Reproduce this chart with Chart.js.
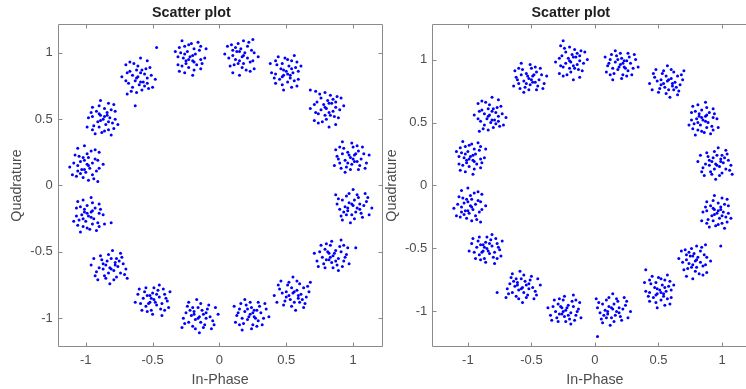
<!DOCTYPE html>
<html>
<head>
<meta charset="utf-8">
<script src="https://cdn.jsdelivr.net/npm/chart.js@4.4.1/dist/chart.umd.min.js"></script>
<style>
  html, body { margin: 0; padding: 0; background: #fff; overflow: hidden; }
  #wrap { position: relative; width: 746px; height: 389px; overflow: hidden; }
  canvas { position: absolute; top: 0; }
  #graficoEsq { left: 0; }
  #graficoDir { left: 384px; }
</style>
</head>
<body>
<div id="wrap">
  <canvas id="graficoEsq" width="384" height="389"></canvas>
  <canvas id="graficoDir" width="380" height="389"></canvas>
</div>
<script>
// Received symbols, left plot: flat list of In-Phase, Quadrature pairs, one line per cluster
const pontosEsq = [
  0.98,0.21, 1.01,0.23, 0.96,0.25, 1.03,0.18, 0.94,0.19, 0.99,0.16, 1.04,0.26, 0.92,0.24, 1.00,0.29, 0.95,0.14, 1.06,0.20, 0.90,0.17, 1.02,0.24, 0.97,0.23, 1.05,0.15, 0.93,0.28, 0.98,0.12, 1.08,0.24, 0.88,0.22, 1.01,0.18, 1.03,0.30, 0.91,0.13, 1.10,0.17, 0.87,0.27, 0.99,0.32, 0.94,0.10, 1.07,0.29, 0.89,0.20, 1.12,0.23, 0.92,0.33, 1.00,0.20, 0.96,0.17, 1.04,0.12, 0.90,0.29, 1.09,0.13, 0.86,0.15,
  1.00,-0.15, 0.97,-0.13, 1.03,-0.17, 0.96,-0.19, 1.01,-0.11, 1.05,-0.14, 0.94,-0.16, 0.99,-0.22, 1.02,-0.20, 1.06,-0.21, 0.92,-0.11, 1.04,-0.09, 0.95,-0.08, 1.08,-0.15, 0.90,-0.18, 1.01,-0.25, 0.97,-0.06, 1.07,-0.24, 0.91,-0.23, 1.10,-0.12, 0.88,-0.14, 1.05,-0.18, 0.93,-0.20, 1.00,-0.03, 0.98,-0.28, 1.12,-0.22, 0.87,-0.07, 1.09,-0.06, 0.95,-0.22, 1.14,-0.17, 0.99,-0.14, 0.96,-0.17, 1.03,-0.07, 0.92,-0.26, 1.11,-0.09, 0.89,-0.10,
  0.85,-0.53, 0.82,-0.51, 0.87,-0.49, 0.80,-0.56, 0.89,-0.55, 0.84,-0.58, 0.79,-0.48, 0.91,-0.50, 0.83,-0.45, 0.88,-0.60, 0.77,-0.54, 0.93,-0.57, 0.81,-0.50, 0.86,-0.51, 0.78,-0.59, 0.90,-0.46, 0.85,-0.62, 0.75,-0.50, 0.95,-0.52, 0.82,-0.56, 0.80,-0.44, 0.92,-0.61, 0.73,-0.57, 0.96,-0.47, 0.84,-0.42, 0.89,-0.64, 0.76,-0.45, 0.94,-0.54, 0.71,-0.51, 0.91,-0.41, 0.83,-0.54, 0.87,-0.57, 0.79,-0.62, 0.93,-0.45, 0.74,-0.61, 0.97,-0.59,
  0.55,-0.81, 0.58,-0.79, 0.52,-0.83, 0.59,-0.85, 0.54,-0.77, 0.50,-0.80, 0.61,-0.82, 0.56,-0.88, 0.53,-0.86, 0.49,-0.87, 0.63,-0.77, 0.51,-0.75, 0.60,-0.74, 0.47,-0.81, 0.65,-0.84, 0.54,-0.91, 0.58,-0.72, 0.48,-0.90, 0.64,-0.89, 0.45,-0.78, 0.67,-0.80, 0.50,-0.84, 0.62,-0.86, 0.55,-0.69, 0.57,-0.94, 0.43,-0.88, 0.68,-0.73, 0.46,-0.72, 0.60,-0.88, 0.41,-0.83, 0.56,-0.80, 0.59,-0.83, 0.52,-0.73, 0.63,-0.92, 0.44,-0.75, 0.66,-0.76,
  0.23,-0.97, 0.26,-0.99, 0.21,-1.01, 0.28,-0.94, 0.19,-0.95, 0.24,-0.92, 0.29,-1.02, 0.17,-1.00, 0.25,-1.05, 0.20,-0.90, 0.31,-0.96, 0.15,-0.93, 0.27,-1.00, 0.22,-0.99, 0.30,-0.91, 0.18,-1.04, 0.23,-0.88, 0.33,-1.00, 0.13,-0.98, 0.26,-0.94, 0.28,-1.06, 0.16,-0.89, 0.35,-0.93, 0.12,-1.03, 0.24,-1.08, 0.19,-0.86, 0.32,-1.05, 0.14,-0.96, 0.37,-0.99, 0.17,-1.09, 0.25,-0.96, 0.21,-0.93, 0.29,-0.88, 0.15,-1.05, 0.34,-0.89, 0.11,-0.91,
  -0.15,-0.99, -0.18,-1.01, -0.12,-0.97, -0.19,-0.95, -0.14,-1.03, -0.10,-1.00, -0.21,-0.98, -0.16,-0.92, -0.13,-0.94, -0.09,-0.93, -0.23,-1.03, -0.11,-1.05, -0.20,-1.06, -0.07,-0.99, -0.25,-0.96, -0.14,-0.89, -0.18,-1.08, -0.08,-0.90, -0.24,-0.91, -0.05,-1.02, -0.27,-1.00, -0.10,-0.96, -0.22,-0.94, -0.15,-1.11, -0.17,-0.86, -0.03,-0.92, -0.28,-1.07, -0.06,-1.08, -0.20,-0.92, -0.01,-0.97, -0.16,-1.00, -0.19,-0.97, -0.12,-1.07, -0.23,-0.88, -0.04,-1.05, -0.26,-1.04,
  -0.49,-0.86, -0.52,-0.88, -0.47,-0.90, -0.54,-0.83, -0.45,-0.84, -0.50,-0.81, -0.55,-0.91, -0.43,-0.89, -0.51,-0.94, -0.46,-0.79, -0.57,-0.85, -0.41,-0.82, -0.53,-0.89, -0.48,-0.88, -0.56,-0.80, -0.44,-0.93, -0.49,-0.77, -0.59,-0.89, -0.39,-0.87, -0.52,-0.83, -0.54,-0.95, -0.42,-0.78, -0.61,-0.82, -0.38,-0.92, -0.50,-0.97, -0.45,-0.75, -0.58,-0.94, -0.40,-0.85, -0.63,-0.88, -0.43,-0.98, -0.51,-0.85, -0.47,-0.82, -0.55,-0.77, -0.41,-0.94, -0.60,-0.78, -0.37,-0.80,
  -0.82,-0.62, -0.79,-0.64, -0.85,-0.60, -0.78,-0.58, -0.83,-0.66, -0.87,-0.63, -0.76,-0.61, -0.81,-0.55, -0.84,-0.57, -0.88,-0.56, -0.74,-0.66, -0.86,-0.68, -0.77,-0.69, -0.90,-0.62, -0.72,-0.59, -0.83,-0.52, -0.79,-0.71, -0.89,-0.53, -0.73,-0.54, -0.92,-0.65, -0.70,-0.63, -0.87,-0.59, -0.75,-0.57, -0.82,-0.74, -0.80,-0.49, -0.94,-0.55, -0.69,-0.70, -0.91,-0.71, -0.77,-0.55, -0.96,-0.60, -0.81,-0.63, -0.78,-0.60, -0.85,-0.70, -0.74,-0.51, -0.93,-0.68, -0.71,-0.67,
  -0.98,-0.23, -0.96,-0.20, -0.94,-0.25, -1.01,-0.18, -1.00,-0.27, -1.03,-0.22, -0.93,-0.17, -0.95,-0.29, -0.90,-0.21, -1.05,-0.26, -0.99,-0.15, -1.02,-0.31, -0.95,-0.19, -0.96,-0.24, -1.04,-0.16, -0.91,-0.28, -1.07,-0.23, -0.95,-0.13, -0.97,-0.33, -1.01,-0.20, -0.89,-0.18, -1.06,-0.30, -1.02,-0.11, -0.92,-0.34, -0.87,-0.22, -1.09,-0.27, -0.90,-0.14, -0.99,-0.32, -0.96,-0.09, -0.86,-0.29, -0.99,-0.21, -1.02,-0.25, -1.07,-0.17, -0.90,-0.31, -1.06,-0.12, -1.04,-0.35,
  -0.99,0.16, -0.97,0.13, -1.01,0.19, -1.03,0.12, -0.95,0.17, -0.98,0.21, -1.00,0.10, -1.06,0.15, -1.04,0.18, -1.05,0.22, -0.95,0.08, -0.93,0.20, -0.92,0.11, -0.99,0.24, -1.02,0.06, -1.09,0.17, -0.90,0.13, -1.08,0.23, -1.07,0.07, -0.96,0.26, -0.98,0.04, -1.02,0.21, -1.04,0.09, -0.87,0.16, -1.12,0.14, -1.06,0.28, -0.91,0.03, -0.90,0.25, -1.06,0.11, -1.01,0.30, -0.98,0.15, -1.01,0.12, -0.91,0.19, -1.10,0.08, -0.93,0.27, -0.94,0.05,
  -0.87,0.50, -0.89,0.53, -0.91,0.48, -0.84,0.55, -0.85,0.46, -0.82,0.51, -0.92,0.56, -0.90,0.44, -0.95,0.52, -0.80,0.47, -0.86,0.58, -0.83,0.42, -0.90,0.54, -0.89,0.49, -0.81,0.57, -0.94,0.45, -0.78,0.50, -0.90,0.60, -0.88,0.40, -0.84,0.53, -0.96,0.55, -0.79,0.43, -0.83,0.62, -0.93,0.39, -0.98,0.51, -0.76,0.46, -0.95,0.59, -0.86,0.41, -0.89,0.64, -0.99,0.44, -0.86,0.52, -0.83,0.48, -0.78,0.56, -0.95,0.42, -0.79,0.61, -0.81,0.38,
  -0.61,0.82, -0.63,0.79, -0.59,0.85, -0.57,0.78, -0.65,0.83, -0.62,0.87, -0.60,0.76, -0.54,0.81, -0.56,0.84, -0.55,0.88, -0.65,0.74, -0.67,0.86, -0.68,0.77, -0.61,0.90, -0.58,0.72, -0.51,0.83, -0.70,0.79, -0.52,0.89, -0.53,0.73, -0.64,0.92, -0.62,0.70, -0.58,0.87, -0.56,0.75, -0.73,0.82, -0.48,0.80, -0.54,0.94, -0.69,0.69, -0.70,0.91, -0.54,0.77, -0.59,0.96, -0.62,0.81, -0.59,0.78, -0.69,0.85, -0.50,0.74, -0.67,0.93, -0.66,0.71,
  -0.22,0.97, -0.20,0.94, -0.18,0.99, -0.25,0.92, -0.24,1.01, -0.27,0.96, -0.17,0.91, -0.19,1.03, -0.14,0.95, -0.29,1.00, -0.23,0.89, -0.26,1.05, -0.19,0.93, -0.20,0.98, -0.28,0.90, -0.15,1.02, -0.31,0.97, -0.19,0.87, -0.21,1.07, -0.25,0.94, -0.13,0.92, -0.30,1.04, -0.26,0.85, -0.16,1.08, -0.11,0.96, -0.33,1.01, -0.14,0.88, -0.23,1.06, -0.20,0.83, -0.10,1.03, -0.23,0.95, -0.26,0.99, -0.31,0.91, -0.14,1.05, -0.30,0.86, -0.28,1.09,
  0.17,0.97, 0.19,1.00, 0.15,0.94, 0.13,1.01, 0.21,0.96, 0.18,0.92, 0.16,1.03, 0.10,0.98, 0.12,0.95, 0.11,0.91, 0.21,1.05, 0.23,0.93, 0.24,1.02, 0.17,0.89, 0.14,1.07, 0.07,0.96, 0.26,1.00, 0.08,0.90, 0.09,1.06, 0.20,0.87, 0.18,1.09, 0.14,0.92, 0.12,1.04, 0.29,0.97, 0.04,0.99, 0.10,0.85, 0.25,1.10, 0.26,0.88, 0.10,1.02, 0.15,0.83, 0.18,0.98, 0.15,1.01, 0.25,0.94, 0.06,1.05, 0.23,0.86, 0.22,1.08,
  0.50,0.86, 0.48,0.83, 0.46,0.88, 0.53,0.81, 0.52,0.90, 0.55,0.85, 0.45,0.80, 0.47,0.92, 0.42,0.84, 0.57,0.89, 0.51,0.78, 0.54,0.94, 0.47,0.82, 0.48,0.87, 0.56,0.79, 0.43,0.91, 0.59,0.86, 0.47,0.76, 0.49,0.96, 0.53,0.83, 0.41,0.81, 0.58,0.93, 0.54,0.74, 0.44,0.97, 0.39,0.85, 0.61,0.90, 0.42,0.77, 0.51,0.95, 0.48,0.72, 0.38,0.92, 0.51,0.84, 0.54,0.88, 0.59,0.80, 0.42,0.94, 0.58,0.75, 0.56,0.98,
  0.80,0.58, 0.78,0.61, 0.82,0.55, 0.84,0.62, 0.76,0.57, 0.79,0.53, 0.81,0.64, 0.87,0.59, 0.85,0.56, 0.86,0.52, 0.76,0.66, 0.74,0.54, 0.73,0.63, 0.80,0.50, 0.83,0.68, 0.90,0.57, 0.71,0.61, 0.89,0.51, 0.88,0.67, 0.77,0.48, 0.79,0.70, 0.83,0.53, 0.85,0.65, 0.68,0.58, 0.93,0.60, 0.87,0.46, 0.72,0.71, 0.71,0.49, 0.87,0.63, 0.82,0.44, 0.79,0.59, 0.82,0.62, 0.72,0.55, 0.91,0.66, 0.74,0.47, 0.75,0.69,
  // stray symbols
  -0.47,1.04, -0.63,0.60, -0.81,-0.28, 1.02,-0.47, 0.68,0.72
];

// Received symbols, right plot
const pontosDir = [
  0.95,0.17, 0.98,0.15, 0.92,0.19, 0.99,0.21, 0.94,0.13, 0.90,0.16, 1.01,0.18, 0.96,0.24, 0.93,0.22, 0.89,0.23, 1.03,0.13, 0.91,0.11, 1.00,0.10, 0.87,0.17, 1.05,0.20, 0.94,0.27, 0.98,0.08, 0.88,0.26, 1.04,0.25, 0.85,0.14, 1.07,0.16, 0.90,0.20, 1.02,0.22, 0.95,0.05, 0.97,0.30, 0.83,0.24, 1.08,0.09, 0.86,0.08, 1.00,0.24, 0.81,0.19, 0.96,0.16, 0.99,0.19, 0.92,0.09, 1.03,0.28, 0.84,0.11, 1.06,0.12,
  0.96,-0.22, 0.94,-0.19, 0.92,-0.24, 0.99,-0.17, 0.98,-0.26, 1.01,-0.21, 0.91,-0.16, 0.93,-0.28, 0.88,-0.20, 1.03,-0.25, 0.97,-0.14, 1.00,-0.30, 0.93,-0.18, 0.94,-0.23, 1.02,-0.15, 0.89,-0.27, 1.05,-0.22, 0.93,-0.12, 0.95,-0.32, 0.99,-0.19, 0.87,-0.17, 1.04,-0.29, 1.00,-0.10, 0.90,-0.33, 0.85,-0.21, 1.07,-0.26, 0.88,-0.13, 0.97,-0.31, 0.94,-0.08, 0.84,-0.28, 0.97,-0.20, 1.00,-0.24, 1.05,-0.16, 0.88,-0.30, 1.04,-0.11, 1.02,-0.34,
  0.79,-0.60, 0.81,-0.57, 0.77,-0.63, 0.75,-0.56, 0.83,-0.61, 0.80,-0.65, 0.78,-0.54, 0.72,-0.59, 0.74,-0.62, 0.73,-0.66, 0.83,-0.52, 0.85,-0.64, 0.86,-0.55, 0.79,-0.68, 0.76,-0.50, 0.69,-0.61, 0.88,-0.57, 0.70,-0.67, 0.71,-0.51, 0.82,-0.70, 0.80,-0.48, 0.76,-0.65, 0.74,-0.53, 0.91,-0.60, 0.66,-0.58, 0.72,-0.72, 0.87,-0.47, 0.88,-0.69, 0.72,-0.55, 0.77,-0.74, 0.80,-0.59, 0.77,-0.56, 0.87,-0.63, 0.68,-0.52, 0.85,-0.71, 0.84,-0.49,
  0.51,-0.83, 0.49,-0.86, 0.47,-0.81, 0.54,-0.88, 0.53,-0.79, 0.56,-0.84, 0.46,-0.89, 0.48,-0.77, 0.43,-0.85, 0.58,-0.80, 0.52,-0.91, 0.55,-0.75, 0.48,-0.87, 0.49,-0.82, 0.57,-0.90, 0.44,-0.78, 0.60,-0.83, 0.48,-0.93, 0.50,-0.73, 0.54,-0.86, 0.42,-0.88, 0.59,-0.76, 0.55,-0.95, 0.45,-0.72, 0.40,-0.84, 0.62,-0.79, 0.43,-0.92, 0.52,-0.74, 0.49,-0.97, 0.39,-0.77, 0.52,-0.85, 0.55,-0.81, 0.60,-0.89, 0.43,-0.75, 0.59,-0.94, 0.57,-0.71,
  0.14,-0.98, 0.11,-0.96, 0.17,-1.00, 0.10,-1.02, 0.15,-0.94, 0.19,-0.97, 0.08,-0.99, 0.13,-1.05, 0.16,-1.03, 0.20,-1.04, 0.06,-0.94, 0.18,-0.92, 0.09,-0.91, 0.22,-0.98, 0.04,-1.01, 0.15,-1.08, 0.11,-0.89, 0.21,-1.07, 0.05,-1.06, 0.24,-0.95, 0.02,-0.97, 0.19,-1.01, 0.07,-1.03, 0.14,-0.86, 0.12,-1.11, 0.26,-1.05, 0.01,-0.90, 0.23,-0.89, 0.09,-1.05, 0.28,-1.00, 0.13,-0.97, 0.10,-1.00, 0.17,-0.90, 0.06,-1.09, 0.25,-0.92, 0.03,-0.93,
  -0.23,-0.99, -0.26,-0.97, -0.21,-0.95, -0.28,-1.02, -0.19,-1.01, -0.24,-1.04, -0.29,-0.94, -0.17,-0.96, -0.25,-0.91, -0.20,-1.06, -0.31,-1.00, -0.15,-1.03, -0.27,-0.96, -0.22,-0.97, -0.30,-1.05, -0.18,-0.92, -0.23,-1.08, -0.33,-0.96, -0.13,-0.98, -0.26,-1.02, -0.28,-0.90, -0.16,-1.07, -0.35,-1.03, -0.12,-0.93, -0.24,-0.88, -0.19,-1.10, -0.32,-0.91, -0.14,-1.00, -0.37,-0.97, -0.17,-0.87, -0.25,-1.00, -0.21,-1.03, -0.29,-1.08, -0.15,-0.91, -0.34,-1.07, -0.11,-1.05,
  -0.57,-0.81, -0.60,-0.83, -0.54,-0.79, -0.61,-0.77, -0.56,-0.85, -0.52,-0.82, -0.63,-0.80, -0.58,-0.74, -0.55,-0.76, -0.51,-0.75, -0.65,-0.85, -0.53,-0.87, -0.62,-0.88, -0.49,-0.81, -0.67,-0.78, -0.56,-0.71, -0.60,-0.90, -0.50,-0.72, -0.66,-0.73, -0.47,-0.84, -0.69,-0.82, -0.52,-0.78, -0.64,-0.76, -0.57,-0.93, -0.59,-0.68, -0.45,-0.74, -0.70,-0.89, -0.48,-0.90, -0.62,-0.74, -0.43,-0.79, -0.58,-0.82, -0.61,-0.79, -0.54,-0.89, -0.65,-0.70, -0.46,-0.87, -0.68,-0.86,
  -0.85,-0.50, -0.88,-0.52, -0.83,-0.54, -0.90,-0.47, -0.81,-0.48, -0.86,-0.45, -0.91,-0.55, -0.79,-0.53, -0.87,-0.58, -0.82,-0.43, -0.93,-0.49, -0.77,-0.46, -0.89,-0.53, -0.84,-0.52, -0.92,-0.44, -0.80,-0.57, -0.85,-0.41, -0.95,-0.53, -0.75,-0.51, -0.88,-0.47, -0.90,-0.59, -0.78,-0.42, -0.97,-0.46, -0.74,-0.56, -0.86,-0.61, -0.81,-0.39, -0.94,-0.58, -0.76,-0.49, -0.99,-0.52, -0.79,-0.62, -0.87,-0.49, -0.83,-0.46, -0.91,-0.41, -0.77,-0.58, -0.96,-0.42, -0.73,-0.44,
  -0.98,-0.16, -0.96,-0.19, -1.00,-0.13, -1.02,-0.20, -0.94,-0.15, -0.97,-0.11, -0.99,-0.22, -1.05,-0.17, -1.03,-0.14, -1.04,-0.10, -0.94,-0.24, -0.92,-0.12, -0.91,-0.21, -0.98,-0.08, -1.01,-0.26, -1.08,-0.15, -0.89,-0.19, -1.07,-0.09, -1.06,-0.25, -0.95,-0.06, -0.97,-0.28, -1.01,-0.11, -1.03,-0.23, -0.86,-0.16, -1.11,-0.18, -1.05,-0.04, -0.90,-0.29, -0.89,-0.07, -1.05,-0.21, -1.00,-0.02, -0.97,-0.17, -1.00,-0.20, -0.90,-0.13, -1.09,-0.24, -0.92,-0.05, -0.93,-0.27,
  -0.98,0.23, -0.96,0.20, -0.94,0.25, -1.01,0.18, -1.00,0.27, -1.03,0.22, -0.93,0.17, -0.95,0.29, -0.90,0.21, -1.05,0.26, -0.99,0.15, -1.02,0.31, -0.95,0.19, -0.96,0.24, -1.04,0.16, -0.91,0.28, -1.07,0.23, -0.95,0.13, -0.97,0.33, -1.01,0.20, -0.89,0.18, -1.06,0.30, -1.02,0.11, -0.92,0.34, -0.87,0.22, -1.09,0.27, -0.90,0.14, -0.99,0.32, -0.96,0.09, -0.86,0.29, -0.99,0.21, -1.02,0.25, -1.07,0.17, -0.90,0.31, -1.06,0.12, -1.04,0.35,
  -0.83,0.56, -0.85,0.53, -0.81,0.59, -0.79,0.52, -0.87,0.57, -0.84,0.61, -0.82,0.50, -0.76,0.55, -0.78,0.58, -0.77,0.62, -0.87,0.48, -0.89,0.60, -0.90,0.51, -0.83,0.64, -0.80,0.46, -0.73,0.57, -0.92,0.53, -0.74,0.63, -0.75,0.47, -0.86,0.66, -0.84,0.44, -0.80,0.61, -0.78,0.49, -0.95,0.56, -0.70,0.54, -0.76,0.68, -0.91,0.43, -0.92,0.65, -0.76,0.51, -0.81,0.70, -0.84,0.55, -0.81,0.52, -0.91,0.59, -0.72,0.48, -0.89,0.67, -0.88,0.45,
  -0.52,0.85, -0.49,0.87, -0.54,0.89, -0.47,0.82, -0.56,0.83, -0.51,0.80, -0.46,0.90, -0.58,0.88, -0.50,0.93, -0.55,0.78, -0.44,0.84, -0.60,0.81, -0.48,0.88, -0.53,0.87, -0.45,0.79, -0.57,0.92, -0.52,0.76, -0.42,0.88, -0.62,0.86, -0.49,0.82, -0.47,0.94, -0.59,0.77, -0.40,0.81, -0.63,0.91, -0.51,0.96, -0.56,0.74, -0.43,0.93, -0.61,0.84, -0.38,0.87, -0.58,0.97, -0.50,0.84, -0.54,0.81, -0.46,0.76, -0.60,0.93, -0.41,0.77, -0.64,0.79,
  -0.19,0.98, -0.21,1.01, -0.17,0.95, -0.15,1.02, -0.23,0.97, -0.20,0.93, -0.18,1.04, -0.12,0.99, -0.14,0.96, -0.13,0.92, -0.23,1.06, -0.25,0.94, -0.26,1.03, -0.19,0.90, -0.16,1.08, -0.09,0.97, -0.28,1.01, -0.10,0.91, -0.11,1.07, -0.22,0.88, -0.20,1.10, -0.16,0.93, -0.14,1.05, -0.31,0.98, -0.06,1.00, -0.12,0.86, -0.27,1.11, -0.28,0.89, -0.12,1.03, -0.17,0.84, -0.20,0.99, -0.17,1.02, -0.27,0.95, -0.08,1.06, -0.25,0.87, -0.24,1.09,
  0.20,0.96, 0.23,0.94, 0.18,0.92, 0.25,0.99, 0.16,0.98, 0.21,1.01, 0.26,0.91, 0.14,0.93, 0.22,0.88, 0.17,1.03, 0.28,0.97, 0.12,1.00, 0.24,0.93, 0.19,0.94, 0.27,1.02, 0.15,0.89, 0.20,1.05, 0.30,0.93, 0.10,0.95, 0.23,0.99, 0.25,0.87, 0.13,1.04, 0.32,1.00, 0.09,0.90, 0.21,0.85, 0.16,1.07, 0.29,0.88, 0.11,0.97, 0.34,0.94, 0.14,0.84, 0.22,0.97, 0.18,1.00, 0.26,1.05, 0.12,0.88, 0.31,1.04, 0.08,1.02,
  0.57,0.83, 0.60,0.85, 0.54,0.81, 0.61,0.79, 0.56,0.87, 0.52,0.84, 0.63,0.82, 0.58,0.76, 0.55,0.78, 0.51,0.77, 0.65,0.87, 0.53,0.89, 0.62,0.90, 0.49,0.83, 0.67,0.80, 0.56,0.73, 0.60,0.92, 0.50,0.74, 0.66,0.75, 0.47,0.86, 0.69,0.84, 0.52,0.80, 0.64,0.78, 0.57,0.95, 0.59,0.70, 0.45,0.76, 0.70,0.91, 0.48,0.92, 0.62,0.76, 0.43,0.81, 0.58,0.84, 0.61,0.81, 0.54,0.91, 0.65,0.72, 0.46,0.89, 0.68,0.88,
  0.85,0.52, 0.87,0.55, 0.89,0.50, 0.82,0.57, 0.83,0.48, 0.80,0.53, 0.90,0.58, 0.88,0.46, 0.93,0.54, 0.78,0.49, 0.84,0.60, 0.81,0.44, 0.88,0.56, 0.87,0.51, 0.79,0.59, 0.92,0.47, 0.76,0.52, 0.88,0.62, 0.86,0.42, 0.82,0.55, 0.94,0.57, 0.77,0.45, 0.81,0.64, 0.91,0.41, 0.96,0.53, 0.74,0.48, 0.93,0.61, 0.84,0.43, 0.87,0.66, 0.97,0.46, 0.84,0.54, 0.81,0.50, 0.76,0.58, 0.93,0.44, 0.77,0.63, 0.79,0.40,
  // stray symbols
  0.02,-1.20, -0.77,-0.85, 0.99,-0.48, 0.40,-0.67, -0.25,1.15
];

// Axis limits
const limitesEsqX = [-1.21, 1.22];
const limitesEsqY = [-1.215, 1.215];
const limitesDirX = [-1.28, 1.28];
const limitesDirY = [-1.28, 1.28];

const tituloGrafico = 'Scatter plot';
const rotuloX = 'In-Phase';
const rotuloY = 'Quadrature';

const fonte = "'Liberation Sans', Arial, sans-serif";

// Turns the flat list into {x, y} points
function paraPontos(lista) {
  const saida = [];
  for (let i = 0; i < lista.length; i += 2) {
    saida.push({ x: lista[i], y: lista[i + 1] });
  }
  return saida;
}

// MATLAB-style labels: 1, 0.5, 0, -0.5, -1
function rotuloTick(valor) {
  return String(Math.round(valor * 10) / 10);
}

// Box around the axes with inward tick marks, like MATLAB
const moldura = {
  id: 'moldura',
  afterDatasetsDraw(chart) {
    const { ctx, chartArea: a, scales: { x, y } } = chart;
    const esq = Math.round(a.left) + 0.5;
    const dir = Math.round(a.right) - 0.5;
    const topo = Math.round(a.top) + 0.5;
    const base = Math.round(a.bottom) - 0.5;
    const tam = 4;
    ctx.save();
    ctx.strokeStyle = '#8a8a8a';
    ctx.lineWidth = 1;
    ctx.beginPath();
    ctx.moveTo(esq, topo); ctx.lineTo(dir, topo); ctx.lineTo(dir, base); ctx.lineTo(esq, base); ctx.closePath();
    x.ticks.forEach(t => {
      const px = Math.round(x.getPixelForValue(t.value)) + 0.5;
      ctx.moveTo(px, base); ctx.lineTo(px, base - tam);
      ctx.moveTo(px, topo); ctx.lineTo(px, topo + tam);
    });
    y.ticks.forEach(t => {
      const py = Math.round(y.getPixelForValue(t.value)) + 0.5;
      ctx.moveTo(esq, py); ctx.lineTo(esq + tam, py);
      ctx.moveTo(dir, py); ctx.lineTo(dir - tam, py);
    });
    ctx.stroke();
    ctx.restore();
  }
};

function criarGrafico(id, lista, limX, limY, cfg) {
  const ctx = document.getElementById(id).getContext('2d');
  return new Chart(ctx, {
    type: 'scatter',
    data: {
      datasets: [{
        data: paraPontos(lista),
        pointRadius: 1.5,
        pointBorderWidth: 0,
        pointBackgroundColor: '#0000ff',
        pointHoverRadius: 1.5
      }]
    },
    options: {
      responsive: false,
      animation: false,
      events: [],
      layout: { padding: { left: 0, right: cfg.padDir, top: 0, bottom: 0 } },
      plugins: {
        legend: { display: false },
        tooltip: { enabled: false },
        title: {
          display: true,
          text: tituloGrafico,
          color: '#1e1e1e',
          font: { family: fonte, size: 14.3, weight: 'bold', lineHeight: 1.2 },
          padding: { top: 4.9, bottom: 2.2 }
        }
      },
      scales: {
        x: {
          type: 'linear',
          min: limX[0],
          max: limX[1],
          grid: { display: false, drawTicks: false },
          border: { display: false },
          ticks: {
            stepSize: 0.5, includeBounds: false, autoSkip: false, maxRotation: 0,
            padding: 5.5, color: '#4d4d4d', font: { family: fonte, size: 13 },
            callback: rotuloTick
          },
          title: {
            display: true, text: rotuloX, color: '#4d4d4d',
            font: { family: fonte, size: 14.3, lineHeight: 1.1 },
            padding: { top: 0, bottom: 1.1 }
          },
          afterFit: s => { s.height = 42.3; }
        },
        y: {
          type: 'linear',
          min: limY[0],
          max: limY[1],
          grid: { display: false, drawTicks: false },
          border: { display: false },
          ticks: {
            stepSize: 0.5, includeBounds: false, autoSkip: false,
            padding: 5, color: '#4d4d4d', font: { family: fonte, size: 13 },
            callback: rotuloTick
          },
          title: {
            display: true, text: rotuloY, color: '#4d4d4d',
            font: { family: fonte, size: 14.3, lineHeight: 1.1 },
            padding: { top: cfg.padTituloY, bottom: 0 }
          },
          afterFit: s => { s.width = cfg.larguraY; }
        }
      }
    },
    plugins: [moldura]
  });
}

criarGrafico('graficoEsq', pontosEsq, limitesEsqX, limitesEsqY, { padDir: 1.3, larguraY: 57.7, padTituloY: 9.4 });
criarGrafico('graficoDir', pontosDir, limitesDirX, limitesDirY, { padDir: 6.4, larguraY: 48.3, padTituloY: 0 });
</script>
</body>
</html>
